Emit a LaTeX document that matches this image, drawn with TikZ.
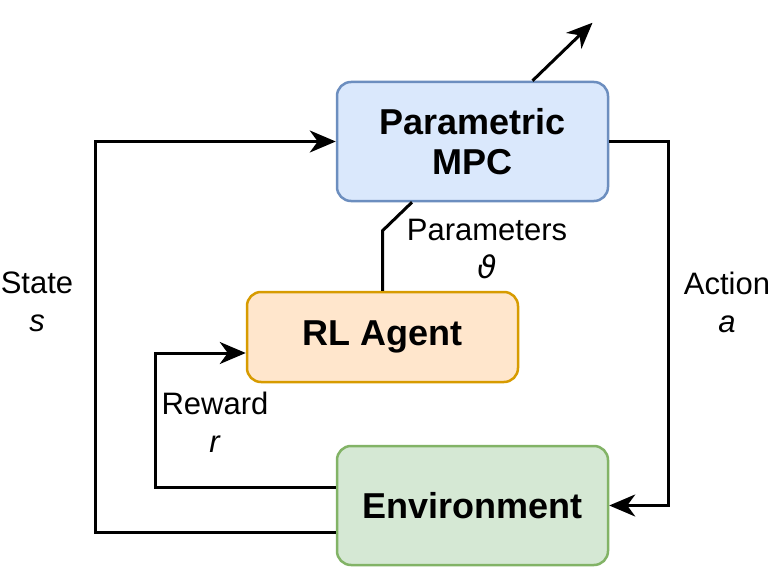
\documentclass[tikz,border=0pt]{standalone}
\usepackage{fontspec}
\setmainfont{Liberation Sans}
\newfontfamily\dejavu{DejaVu Sans}
\usetikzlibrary{arrows.meta}
\definecolor{mpcfill}{HTML}{DAE8FC}\definecolor{mpcdraw}{HTML}{6C8EBF}
\definecolor{rlfill}{HTML}{FFE6CC}\definecolor{rldraw}{HTML}{D79B00}
\definecolor{envfill}{HTML}{D5E8D4}\definecolor{envdraw}{HTML}{82B366}
\tikzset{
  block/.style={rounded corners=14pt, line width=2.5pt, align=center,
    font=\fontsize{36}{40}\selectfont\bfseries, inner sep=0pt},
  conn/.style={line width=3pt},
  arr/.style={conn, -{Stealth[length=26pt,width=22pt,inset=8pt]}},
  lbl/.style={align=center, font=\fontsize{31}{38}\selectfont, inner sep=0pt}
}
\begin{document}
\begin{tikzpicture}[x=1pt,y=-1pt]
\useasboundingbox (0,0) rectangle (774,567);
\node[block, fill=mpcfill, draw=mpcdraw, minimum width=271pt, minimum height=119pt] (mpc) at (472.5,141.5) {Parametric\\MPC};
\node[block, fill=rlfill, draw=rldraw, minimum width=271pt, minimum height=90pt] (rl) at (382.5,337) {RL Agent};
\node[block, fill=envfill, draw=envdraw, minimum width=271pt, minimum height=119pt] (env) at (472.5,505.5) {Environment};
% State
\draw[arr] ([yshift=-27pt]env.west) -- ++(-240,0) |- (mpc.west);
% Reward
\draw[arr] ([yshift=18.5pt]env.west) -- ++(-180,0) |- ([yshift=-16pt]rl.west);
% Action
\draw[arr] (mpc.east) -- ++(59,0) |- (env.east);
% Parameters
\draw[conn] (rl.north) -- ++(0,-60) -- ([xshift=-60.5pt]mpc.south);
% Output
\draw[arr] ([xshift=60pt]mpc.north) -- ++(60,-58);
\node[lbl] (ls) at (37,302) {State\\\textit{s}};
\node[lbl] (lr) at (215,422) {Reward\\\textit{r}};
\node[lbl] (lp) at (487,249) {Parameters\\{\dejavu\itshape ϑ}};
\node[lbl] (la) at (727,302) {Action\\\textit{a}};
\end{tikzpicture}
\end{document}
